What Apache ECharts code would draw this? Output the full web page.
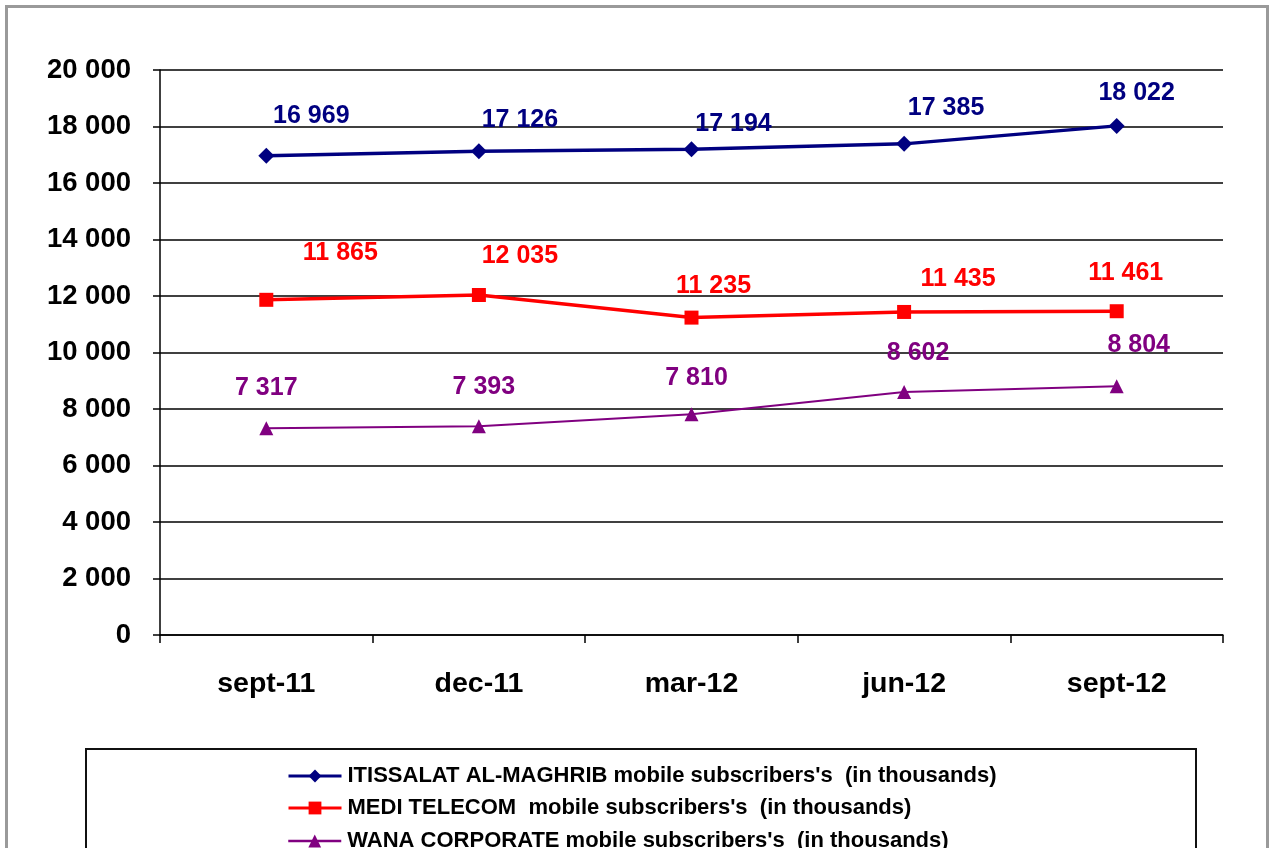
<!DOCTYPE html>
<html>
<head>
<meta charset="utf-8">
<script src="https://cdn.jsdelivr.net/npm/echarts@6/dist/echarts.min.js"></script>
<style>
html,body{margin:0;padding:0;background:#fff;}
#chart{width:1272px;height:848px;}
</style>
</head>
<body>
<div id="chart"></div>
<script>
const categories = ['sept-11', 'dec-11', 'mar-12', 'jun-12', 'sept-12'];
const iamValues = [16969, 17126, 17194, 17385, 18022];
const mediValues = [11865, 12035, 11235, 11435, 11461];
const wanaValues = [7317, 7393, 7810, 8602, 8804];
const seriesNames = [
  "ITISSALAT AL-MAGHRIB mobile subscribers's  (in thousands)",
  "MEDI TELECOM  mobile subscribers's  (in thousands)",
  "WANA CORPORATE mobile subscribers's  (in thousands)"
];

// label offsets (style only, pixels from point)
const iamOffsets = [[45,-40],[41,-31],[42,-25],[42,-36],[20,-33]];
const mediOffsets = [[74,-47],[41,-39],[22,-32],[54,-33],[9,-38]];
const wanaOffsets = [[0,-40],[5,-39],[5,-36],[14,-39],[22,-41]];

function fmt(v){ return String(Math.round(v)).replace(/\B(?=(\d{3})+(?!\d))/g, ' '); }

function build(values, offsets){
  return values.map((v,i)=>({value:v, label:{offset:offsets[i]}}));
}

const chart = echarts.init(document.getElementById('chart'));
const FONT = 'Liberation Sans, Arial, sans-serif';
const labelBase = (color)=>({
  show:true, position:'inside', color:color, fontFamily:FONT, fontWeight:'bold', fontSize:25,
  formatter:(p)=>fmt(p.value)
});
const legendRowTops = [760, 792, 825];
const legendLineWidths = [3, 3, 2.5];
const legends = seriesNames.map((n,i)=>({
  orient:'horizontal', left:282, top:legendRowTops[i], itemWidth:53, itemHeight:16, itemGap:10,
  lineStyle:{width:legendLineWidths[i]},
  textStyle:{color:'#000', fontFamily:FONT, fontWeight:'bold', fontSize:22, padding:[0,0,0,1]},
  data:[n]
}));

chart.setOption({
  animation:false,
  backgroundColor:'#fff',
  graphic:[
    {type:'rect', shape:{x:6.5,y:6.5,width:1261,height:900}, style:{fill:'none', stroke:'#9a9a9a', lineWidth:3}, z:-1},
    {type:'rect', shape:{x:86,y:749,width:1110,height:200}, style:{fill:'#fff', stroke:'#111', lineWidth:2}, z:0}
  ],
  grid:{left:160, right:49, top:70, bottom:213},
  xAxis:{
    type:'category', data:categories, boundaryGap:true,
    axisLine:{lineStyle:{color:'#000', width:1.5}},
    axisTick:{show:true, length:8, lineStyle:{color:'#000', width:1.5}},
    axisLabel:{color:'#000', fontFamily:FONT, fontWeight:'bold', fontSize:28.5, margin:35}
  },
  yAxis:{
    type:'value', min:0, max:20000, interval:2000,
    axisLine:{show:true, lineStyle:{color:'#000', width:1.5}},
    axisTick:{show:true, length:7, lineStyle:{color:'#000', width:1.5}},
    axisLabel:{color:'#000', fontFamily:FONT, fontWeight:'bold', fontSize:27.5, margin:29, formatter:fmt},
    splitLine:{lineStyle:{color:'#000', width:1.5}}
  },
  legend:legends,
  series:[
    {name:seriesNames[0], type:'line', data:build(iamValues, iamOffsets), symbol:'diamond', symbolSize:16,
     itemStyle:{color:'#000080'}, lineStyle:{color:'#000080', width:3.5}, label:labelBase('#000080'), z:5},
    {name:seriesNames[1], type:'line', data:build(mediValues, mediOffsets), symbol:'rect', symbolSize:14,
     itemStyle:{color:'#ff0000'}, lineStyle:{color:'#ff0000', width:3.5}, label:labelBase('#ff0000'), z:4},
    {name:seriesNames[2], type:'line', data:build(wanaValues, wanaOffsets), symbol:'triangle', symbolSize:14,
     itemStyle:{color:'#800080'}, lineStyle:{color:'#800080', width:2}, label:labelBase('#800080'), z:3}
  ]
});
</script>
</body>
</html>
